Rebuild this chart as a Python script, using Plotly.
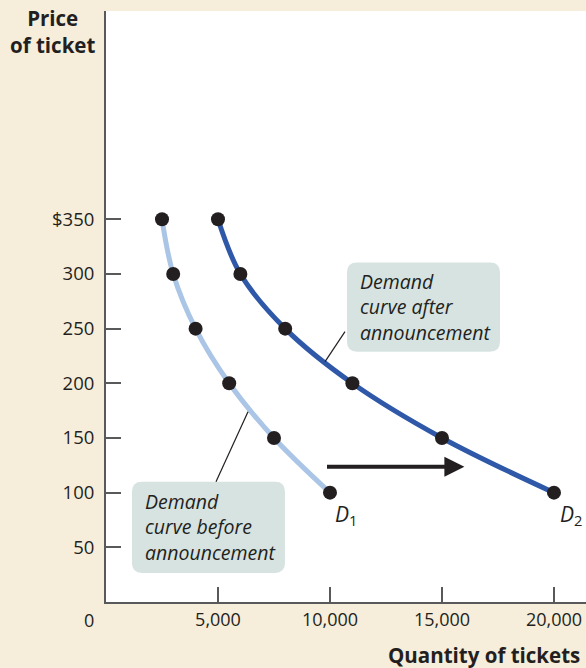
import plotly.graph_objects as go

# Data
prices = [350, 300, 250, 200, 150, 100]
qty_before = [2500, 3000, 4000, 5500, 7500, 10000]
qty_after = [5000, 6000, 8000, 11000, 15000, 20000]
y_ticks = [50, 100, 150, 200, 250, 300, 350]
y_tick_labels = ["50", "100", "150", "200", "250", "300", "$350"]
x_ticks = [5000, 10000, 15000, 20000]
x_tick_labels = ["5,000", "10,000", "15,000", "20,000"]

BEIGE = "#F6EDDA"
BOX = "#D6E3E0"
TXT = "#231F20"
AX = "#58595B"
FONT = "Open Sans"

fig = go.Figure()
fig.add_trace(go.Scatter(x=qty_before, y=prices, mode="lines+markers",
                         line=dict(color="#AAC5E5", width=5, shape="spline", smoothing=1.0),
                         marker=dict(color="#231F20", size=14), showlegend=False))
fig.add_trace(go.Scatter(x=qty_after, y=prices, mode="lines+markers",
                         line=dict(color="#2F58A8", width=5, shape="spline", smoothing=1.0),
                         marker=dict(color="#231F20", size=14), showlegend=False))


def rounded_box(x0, y0, x1, y1, rx, ry):
    return (f"M {x0+rx},{y0} L {x1-rx},{y0} Q {x1},{y0} {x1},{y0+ry} "
            f"L {x1},{y1-ry} Q {x1},{y1} {x1-rx},{y1} L {x0+rx},{y1} "
            f"Q {x0},{y1} {x0},{y1-ry} L {x0},{y0+ry} Q {x0},{y0} {x0+rx},{y0} Z")


rx, ry = 450, 9
shapes = [
    dict(type="path", path=rounded_box(10760, 228.9, 17590, 310.4, rx, ry),
         xref="x", yref="y", fillcolor=BOX, line=dict(width=0), layer="below"),
    dict(type="path", path=rounded_box(1160, 26.6, 7990, 109.9, rx, ry),
         xref="x", yref="y", fillcolor=BOX, line=dict(width=0), layer="below"),
    dict(type="line", x0=10670, y0=247.3, x1=9780, y1=219.8, xref="x", yref="y",
         line=dict(color=TXT, width=1.2)),
    dict(type="line", x0=6340, y0=174, x1=4910, y1=109.9, xref="x", yref="y",
         line=dict(color=TXT, width=1.2)),
]

annotations = [
    dict(x=11250, y=269.5, xref="x", yref="y", xanchor="left", yanchor="middle", align="left",
         text="<i>Demand<br>curve after<br>announcement</i>", showarrow=False,
         font=dict(family=FONT, size=19.5, color=TXT)),
    dict(x=1650, y=68.5, xref="x", yref="y", xanchor="left", yanchor="middle", align="left",
         text="<i>Demand<br>curve before<br>announcement</i>", showarrow=False,
         font=dict(family=FONT, size=19.5, color=TXT)),
    dict(x=10150, y=80, xref="x", yref="y", xanchor="left", yanchor="middle",
         text="<i>D</i><sub>1</sub>", showarrow=False,
         font=dict(family=FONT, size=21, color=TXT)),
    dict(x=20200, y=80, xref="x", yref="y", xanchor="left", yanchor="middle",
         text="<i>D</i><sub>2</sub>", showarrow=False,
         font=dict(family=FONT, size=21, color=TXT)),
    dict(x=16000, y=123.6, ax=9800, ay=123.6, xref="x", yref="y", axref="x", ayref="y",
         text="", showarrow=True, arrowhead=2, arrowsize=1.0, arrowwidth=4, arrowcolor=TXT),
    dict(x=(89 - 106) / 480, y=(602 - 620) / 591, xref="paper", yref="paper",
         xanchor="center", yanchor="middle",
         text="0", showarrow=False, font=dict(family=FONT, size=18, color=TXT)),
    dict(x=(582 - 106) / 480, y=(602 - 655) / 591, xref="paper", yref="paper", xanchor="right",
         yanchor="middle", text="<b>Quantity of tickets</b>", showarrow=False,
         font=dict(family=FONT, size=20.5, color=TXT)),
    dict(x=(52 - 106) / 480, y=(602 - 2) / 591, xref="paper", yref="paper", xanchor="center",
         yanchor="top", text="<b>Price<br>of ticket</b>", showarrow=False,
         font=dict(family=FONT, size=20.5, color=TXT)),
]

fig.update_layout(
    width=586, height=668,
    margin=dict(l=106, r=0, t=11, b=66),
    paper_bgcolor=BEIGE, plot_bgcolor="white",
    shapes=shapes, annotations=annotations,
    font=dict(family=FONT, size=18, color=TXT),
    xaxis=dict(range=[0, 21430], tickvals=x_ticks, ticktext=x_tick_labels,
               ticks="inside", ticklen=15, tickwidth=1.5, tickcolor=AX,
               showline=True, linecolor=AX, linewidth=2, showgrid=False, zeroline=False,
               tickfont=dict(family=FONT, size=18, color=TXT)),
    yaxis=dict(range=[0, 540.5], tickvals=y_ticks, ticktext=y_tick_labels,
               ticks="inside", ticklen=15, tickwidth=1.5, tickcolor=AX,
               showline=True, linecolor=AX, linewidth=2, showgrid=False, zeroline=False,
               ticklabelstandoff=6,
               tickfont=dict(family=FONT, size=18.5, color=TXT)),
)

fig.write_html("out.html", config={"displayModeBar": False},
               post_script="document.body.style.margin='0';document.body.style.padding='0';")
